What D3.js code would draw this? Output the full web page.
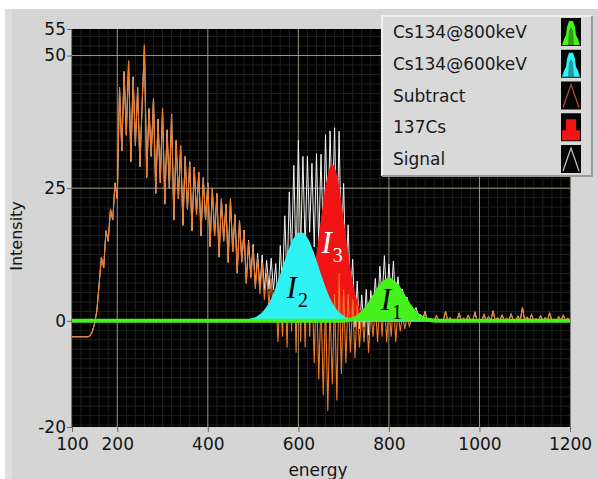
<!DOCTYPE html>
<meta charset="utf-8">
<script src="https://d3js.org/d3.v7.min.js"></script>
<style>
  body { margin: 0; background: #fff; }
</style>
<div id="my_dataviz"></div>
<script>
  // ---------- data ----------
  const xTicks = [100, 200, 400, 600, 800, 1000, 1200];
  const yTicks = [-20, 0, 25, 50, 55];
  const xMajorGrid = [200, 400, 600, 800, 1000];
  const yMajorGrid = [0, 25, 50];

  const legendNames = ["Cs134@800keV", "Cs134@600keV", "Subtract", "137Cs", "Signal"];

  // channel grid of the two noisy spectra: 100 keV .. 1200 keV, one value every 5 keV
  const eStart = 100, eStep = 5;

  // Subtract (orange) - one row = 50 keV
  const subtract = [
    -3, -3, -3, -3, -3, -3, -3, -3, -2.8, -2,
    -0.5, 2, 7, 12, 10, 17, 15, 21, 19, 26,
    23, 44, 32, 47, 35, 49, 30, 46, 33, 44,
    29, 41, 52, 27, 40, 31, 42, 24, 38, 26,
    40, 22, 36, 25, 39, 19, 34, 23, 33, 18,
    31, 21, 30, 17, 29, 20, 28, 16, 27, 19,
    26, 14, 25, 16, 24, 12, 23, 15, 22, 11,
    23, 13, 20, 9, 19, 11, 17, 7, 15, 8,
    14, 6, 12, 5, 11, 4, 9, 3, 8, 1,
    5, -4, 6, -3, 9, -5, 11, -2, 14, -6,
    17, -4, 13, -5, 12, -3, 9, -8, 8, -11,
    4, -14, 4, -17, 3, -12, 5, -15, 9, -10,
    6, -8, 5, -6, 4, -7, 3, -5, 2, -4,
    3, -6, 2, -3, 3, -4, 4, -3, 5, -4,
    3, -3, 4, -4, 2, -2, 1, -1.5, 1, -1,
    0.3, 0, 1.2, 0, 0.5, 0, 1.5, 0, 0.4, 0.2,
    0, 1, 0, 0.3, 0, 1.8, 0, 0.6, 0, 0.3,
    0, 1.4, 0, 0.5, 0, 1, 0.2, 0, 1.6, 0,
    0.4, 0, 1.2, 0, 0.8, 0, 1.9, 0, 0.6, 0,
    1.1, 0, 0.5, 0, 1.3, 0.1, 0, 0.9, 0, 2.5,
    0, 0.7, 0, 1.2, 0, 0.4, 0, 1, 0, 0.6,
    0, 1.5, 0, 0.3, 0, 0.8, 0, 1.1, 0, 0.5,
    0
  ];

  // Signal (white)
  const signal = [
    -3, -3, -3, -3, -3, -3, -3, -3, -2.8, -2,
    -0.5, 2, 7, 12, 10, 17, 15, 21, 19, 26,
    23, 44, 32, 47, 35, 49, 30, 46, 33, 44,
    29, 41, 52, 27, 40, 31, 42, 24, 38, 26,
    40, 22, 36, 25, 39, 19, 34, 23, 33, 18,
    31, 21, 30, 17, 29, 20, 28, 16, 27, 19,
    26, 14, 25, 16, 24, 12, 23, 15, 22, 11,
    23, 13, 20, 9, 19, 11.1, 17.1, 7.1, 15.2, 8.3,
    14.4, 6.5, 12.7, 6, 12.4, 5.8, 11.4, 6, 11.8, 5.8,
    10.8, 3, 14.2, 6.5, 19.8, 7.1, 24.3, 12.4, 29.3, 10,
    34, 13.5, 31, 13.5, 31, 16.7, 29.7, 13.9, 31.5, 14.3,
    31.4, 15.4, 35.1, 15.4, 35.8, 20.5, 36.4, 14.4, 35.7, 13.4,
    25.9, 8.3, 18.1, 4.1, 11.6, -1.2, 7.5, -1.5, 4.9, -1.2,
    5.9, -2.7, 5.7, 1.2, 8, 1.7, 10.3, 3.9, 12.3, 3.6,
    10.7, 4.6, 11.3, 2.9, 8.3, 3.7, 6, 2.7, 4.5, 1.9,
    2.6, 1.8, 2.5, 1, 1.2, 0.5, 1.8, 0, 0.4, 0.2,
    0, 1, 0, 0.3, 0, 1.8, 0, 0.6, 0, 0.3,
    0, 1.4, 0, 0.5, 0, 1, 0.2, 0, 1.6, 0,
    0.4, 0, 1.2, 0, 0.8, 0, 1.9, 0, 0.6, 0,
    1.1, 0, 0.5, 0, 1.3, 0.1, 0, 0.9, 0, 2.5,
    0, 0.7, 0, 1.2, 0, 0.4, 0, 1, 0, 0.6,
    0, 1.5, 0, 0.3, 0, 0.8, 0, 1.1, 0, 0.5,
    0
  ];

  // fitted peaks (energy, intensity)
  const cs800E = [100, 690, 700, 710, 720, 730, 740, 750, 760, 770, 780, 790, 800, 810, 820, 830, 840, 850, 860, 870, 880, 890, 900, 910, 1200];
  const cs800V = [0, 0, 0.06, 0.15, 0.34, 0.7, 1.33, 2.27, 3.53, 4.97, 6.34, 7.33, 7.7, 7.33, 6.34, 4.97, 3.53, 2.27, 1.33, 0.7, 0.34, 0.15, 0.06, 0, 0];

  const cs600E = [100, 460, 470, 480, 490, 500, 510, 520, 530, 540, 550, 560, 570, 580, 590, 600, 605, 610, 620, 630, 640, 650, 660, 670, 680, 690, 700, 710, 720, 730, 740, 750, 1200];
  const cs600V = [0, 0, 0.03, 0.07, 0.17, 0.36, 0.73, 1.35, 2.35, 3.8, 5.8, 8.2, 10.8, 13.3, 15.3, 16.4, 16.5, 16.4, 15.3, 13.3, 10.8, 8.2, 5.8, 3.8, 2.35, 1.35, 0.73, 0.36, 0.17, 0.07, 0.03, 0, 0];

  const cs137E = [100, 550, 560, 570, 580, 590, 600, 610, 620, 630, 640, 650, 660, 670, 675, 680, 690, 700, 710, 720, 730, 740, 750, 760, 770, 780, 790, 1200];
  const cs137V = [0, 0, 0, 0.02, 0.06, 0.21, 0.62, 1.63, 3.7, 7.36, 12.7, 19.2, 25.3, 29.0, 29.5, 29.0, 25.3, 19.2, 12.7, 7.36, 3.7, 1.63, 0.62, 0.21, 0.06, 0.02, 0, 0];

  // ---------- styles ----------
  const cGreen = "#46f21e", cCyan = "#30f2f2", cRed = "#f21414",
    cOrange = "#f07a28", cWhite = "#f2f2f2";
  const font = "'DejaVu Sans', Verdana, sans-serif";

  // set the dimensions and margins of the graph
  var margin = { top: 29, right: 28, bottom: 52, left: 72 },
    width = 598 - margin.left - margin.right,
    height = 479 - margin.top - margin.bottom;

  var root = d3.select("#my_dataviz")
    .append("svg")
    .attr("width", 598)
    .attr("height", 479);

  // panel background
  root.append("rect").attr("x", 5).attr("y", 9).attr("width", 593).attr("height", 470).attr("fill", "#d5d5d5");
  root.append("rect").attr("x", 5).attr("y", 9).attr("width", 7).attr("height", 470).attr("fill", "#dedede");

  var svg = root.append("g")
    .attr("transform", "translate(" + margin.left + "," + margin.top + ")");

  var x = d3.scaleLinear().domain([100, 1200]).range([0, width]);
  var y = d3.scaleLinear().domain([-20, 55]).range([height, 0]);

  svg.append("rect").attr("width", width).attr("height", height).attr("fill", "#000");

  svg.append("clipPath").attr("id", "clip")
    .append("rect").attr("width", width).attr("height", height);

  // minor grid
  var xMinor = d3.range(100, 1201, 20).filter(function (v) { return xMajorGrid.indexOf(v) < 0; });
  var yMinor = d3.range(0, 55, 25 / 14).concat(d3.range(-25 / 14, -20, -25 / 14));
  var grid = svg.append("g");
  grid.selectAll(".vx").data(xMinor).enter().append("line")
    .attr("x1", function (d) { return x(d); }).attr("x2", function (d) { return x(d); })
    .attr("y1", 0).attr("y2", height)
    .attr("stroke", "#1f1f1d").attr("stroke-width", 1);
  grid.selectAll(".hy").data(yMinor).enter().append("line")
    .attr("y1", function (d) { return y(d); }).attr("y2", function (d) { return y(d); })
    .attr("x1", 0).attr("x2", width)
    .attr("stroke", "#1f1f1d").attr("stroke-width", 1);
  // major grid
  grid.selectAll(".mx").data(xMajorGrid).enter().append("line")
    .attr("x1", function (d) { return x(d); }).attr("x2", function (d) { return x(d); })
    .attr("y1", 0).attr("y2", height)
    .attr("stroke", "#9a987e").attr("stroke-width", 1);
  grid.selectAll(".my").data(yMajorGrid).enter().append("line")
    .attr("y1", function (d) { return y(d); }).attr("y2", function (d) { return y(d); })
    .attr("x1", 0).attr("x2", width)
    .attr("stroke", "#9a987e").attr("stroke-width", 1);

  // plots
  var plots = svg.append("g").attr("clip-path", "url(#clip)");

  var spectrumLine = d3.line()
    .x(function (d, i) { return x(eStart + i * eStep); })
    .y(function (d) { return y(d); });

  var peakArea = d3.area()
    .curve(d3.curveMonotoneX)
    .x(function (d) { return x(d[0]); })
    .y0(y(0))
    .y1(function (d) { return y(d[1]); });
  var peakLine = d3.line()
    .curve(d3.curveMonotoneX)
    .x(function (d) { return x(d[0]); })
    .y(function (d) { return y(d[1]); });

  // Signal (bottom)
  plots.append("path").datum(signal)
    .attr("fill", "none").attr("stroke", cWhite).attr("stroke-width", 1)
    .attr("d", spectrumLine);

  // 137Cs
  plots.append("path").datum(d3.zip(cs137E, cs137V))
    .attr("fill", cRed).attr("d", peakArea);

  // Subtract
  plots.append("path").datum(subtract)
    .attr("fill", "none").attr("stroke", cOrange).attr("stroke-width", 1.1)
    .attr("d", spectrumLine);

  // Cs134@600keV
  plots.append("path").datum(d3.zip(cs600E, cs600V))
    .attr("fill", cCyan).attr("d", peakArea);
  plots.append("path").datum(d3.zip(cs600E, cs600V))
    .attr("fill", "none").attr("stroke", cCyan).attr("stroke-width", 2).attr("d", peakLine);

  // Cs134@800keV (top)
  plots.append("path").datum(d3.zip(cs800E, cs800V))
    .attr("fill", cGreen).attr("d", peakArea);
  plots.append("path").datum(d3.zip(cs800E, cs800V))
    .attr("fill", "none").attr("stroke", cGreen).attr("stroke-width", 4).attr("d", peakLine);

  // peak labels
  var peakLabels = [
    { sub: "2", e: 574, v: 4.3, color: "#000" },
    { sub: "3", e: 651, v: 12.8, color: "#fff" },
    { sub: "1", e: 782, v: 2.1, color: "#000" }
  ];
  var pl = svg.selectAll(".pl").data(peakLabels).enter().append("text")
    .attr("x", function (d) { return x(d.e); })
    .attr("y", function (d) { return y(d.v); })
    .attr("fill", function (d) { return d.color; })
    .style("font-family", "'Liberation Serif', 'Times New Roman', serif");
  pl.append("tspan").attr("font-size", 31).attr("font-style", "italic").text("I");
  pl.append("tspan").attr("font-size", 20).attr("dx", 1).attr("dy", 9).text(function (d) { return d.sub; });

  // Y axis
  var yAxis = svg.append("g")
    .call(d3.axisLeft(y).tickValues(yTicks).tickSize(5).tickPadding(1).tickFormat(d3.format("d")));
  // X axis
  var xAxis = svg.append("g")
    .attr("transform", "translate(0," + height + ")")
    .call(d3.axisBottom(x).tickValues(xTicks).tickSize(5).tickPadding(6).tickFormat(d3.format("d")));
  [xAxis, yAxis].forEach(function (a) {
    a.select(".domain").remove();
    a.selectAll("line").attr("stroke", "#6a6a6a");
    a.selectAll("text").attr("fill", "#141414").style("font-family", font).style("font-size", "17px");
  });
  yAxis.selectAll("text").text(function (d) { return d < 0 ? "-" + Math.abs(d) : d; });

  // axis titles
  root.append("text")
    .attr("transform", "translate(22,236) rotate(-90)")
    .attr("text-anchor", "middle")
    .style("font-family", font).style("font-size", "16px").attr("fill", "#141414")
    .text("Intensity");
  root.append("text")
    .attr("x", 318).attr("y", 476)
    .attr("text-anchor", "middle")
    .style("font-family", font).style("font-size", "17px").attr("fill", "#141414")
    .text("energy");

  // legend
  var lg = root.append("g").attr("transform", "translate(382,16)");
  lg.append("rect").attr("width", 210).attr("height", 160).attr("fill", "#d9d9d9");
  lg.append("path").attr("d", "M0,160 V0 H210").attr("fill", "none").attr("stroke", "#efefef").attr("stroke-width", 2);
  lg.append("path").attr("d", "M0,160 H210 V0").attr("fill", "none").attr("stroke", "#9a9a9a").attr("stroke-width", 2);

  var swatchColors = [cGreen, cCyan, "#b0503a", cRed, "#c8c8c8"];
  var swatchKind = ["peak", "peak", "line", "block", "line"];
  var rows = lg.selectAll(".row").data(legendNames).enter().append("g")
    .attr("transform", function (d, i) { return "translate(0," + (16 + i * 31.75) + ")"; });
  rows.append("text")
    .attr("x", 11).attr("y", 6)
    .style("font-family", font).style("font-size", "17px").attr("fill", "#1a1a1a")
    .text(function (d) { return d; });
  var sw = rows.append("g").attr("transform", "translate(179,-14)");
  sw.append("rect").attr("width", 20).attr("height", 28).attr("fill", "#050505");
  sw.each(function (d, i) {
    var g = d3.select(this);
    if (swatchKind[i] === "peak") {
      g.append("polygon")
        .attr("points", "1,27 3,21 5,17 6,9 8,3 12,3 14,9 15,17 17,21 19,27")
        .attr("fill", swatchColors[i]);
      g.append("polygon")
        .attr("points", "7,27 8,13 10,9 12,13 13,27")
        .attr("fill", "#000").attr("opacity", 0.35);
    } else if (swatchKind[i] === "block") {
      g.append("polygon")
        .attr("points", "1,27 1,17 5,17 5,6 15,6 15,17 19,17 19,27")
        .attr("fill", swatchColors[i]);
    } else {
      g.append("polyline")
        .attr("points", "2,26 10,3 18,26")
        .attr("fill", "none").attr("stroke", swatchColors[i]).attr("stroke-width", 1.2);
    }
  });
</script>
